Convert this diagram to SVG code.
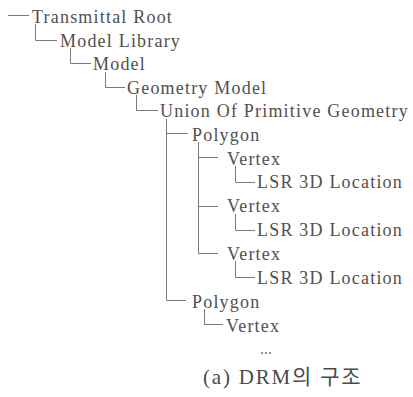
<svg xmlns="http://www.w3.org/2000/svg" width="413" height="397" viewBox="0 0 413 397">
<style>
  .t{font-family:"Liberation Serif","Times New Roman",serif;font-size:18px;letter-spacing:1.2px;fill:#505050}
  .c{stroke:#7a7a7a;stroke-width:1;fill:none}
  .dots{font-family:"Liberation Serif",serif;font-size:16px;fill:#777}
  .cap{font-family:"Liberation Serif","Noto Sans CJK KR",serif;font-size:21px;letter-spacing:1.8px;fill:#4a4a4a}
</style>
<rect width="413" height="397" fill="#ffffff"/>
<g id="connectors">
  <path class="c" d="M8 15.5H29"/>
  <path class="c" d="M35.5 24V40.5H57"/>
  <path class="c" d="M70.5 48V63.5H91"/>
  <path class="c" d="M105.5 72V87.5H125"/>
  <path class="c" d="M136.5 95V110.5H158"/>
  <path class="c" d="M166.5 119V300.5H186"/>
  <path class="c" d="M166.5 133.5H188"/>
  <path class="c" d="M198.5 142V253.5H218"/>
  <path class="c" d="M198.5 157.5H218"/>
  <path class="c" d="M198.5 206.5H218"/>
  <path class="c" d="M235.5 166V182.5H255"/>
  <path class="c" d="M235.5 214V230.5H255"/>
  <path class="c" d="M235.5 261V277.5H255"/>
  <path class="c" d="M204.5 309V324.5H223"/>
</g>
<g id="transmittal-root"><text class="t" x="32" y="22.5">Transmittal Root</text></g>
<g id="model-library"><text class="t" x="60" y="46.5">Model Library</text></g>
<g id="model"><text class="t" x="93" y="70">Model</text></g>
<g id="geometry-model"><text class="t" x="127" y="93.5">Geometry Model</text></g>
<g id="union"><text class="t" x="160" y="117">Union Of Primitive Geometry</text></g>
<g id="polygon-1"><text class="t" x="192" y="140.5">Polygon</text></g>
<g id="vertex-1"><text class="t" x="227" y="164.5">Vertex</text></g>
<g id="lsr-1"><text class="t" x="257" y="188">LSR 3D Location</text></g>
<g id="vertex-2"><text class="t" x="227" y="212">Vertex</text></g>
<g id="lsr-2"><text class="t" x="257" y="236">LSR 3D Location</text></g>
<g id="vertex-3"><text class="t" x="227" y="259.5">Vertex</text></g>
<g id="lsr-3"><text class="t" x="257" y="284">LSR 3D Location</text></g>
<g id="polygon-2"><text class="t" x="192" y="307.5">Polygon</text></g>
<g id="vertex-4"><text class="t" x="226" y="331.5">Vertex</text></g>
<g id="ellipsis"><text class="dots" x="266" y="354" text-anchor="middle">...</text></g>
<g id="caption"><text class="cap" x="203" y="384">(a) DRM의 구조</text></g>
</svg>
